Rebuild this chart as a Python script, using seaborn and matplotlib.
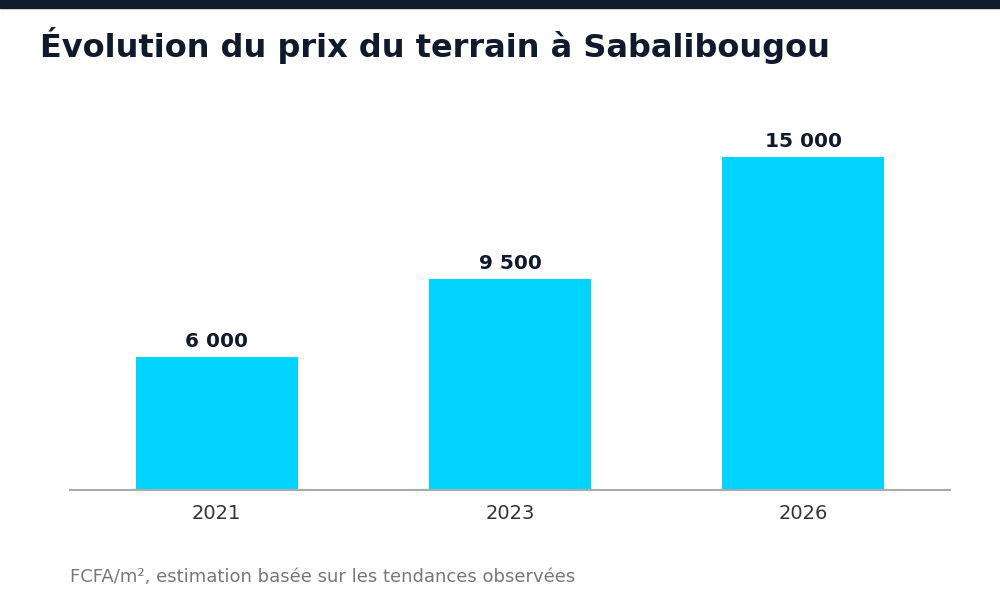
import matplotlib
matplotlib.use("Agg")
import matplotlib.pyplot as plt
import pandas as pd
import seaborn as sns
from matplotlib.patches import Rectangle

years = ["2021", "2023", "2026"]
prices = [6000, 9500, 15000]
value_labels = ["6 000", "9 500", "15 000"]

TITLE = "Évolution du prix du terrain à Sabalibougou"
NOTE = "FCFA/m², estimation basée sur les tendances observées"

DARK = "#0f1b2d"
CYAN = "#00d4ff"

sns.set_theme(style="white")
plt.rcParams["font.family"] = ["DejaVu Sans"]

df = pd.DataFrame({"year": years, "price": prices})

fig = plt.figure(figsize=(10, 6), dpi=100)
ax = fig.add_axes([0.07, 0.1833, 0.88, 0.6475])

sns.barplot(data=df, x="year", y="price", color=CYAN, saturation=1,
            width=0.553, linewidth=0, ax=ax)

ax.set_xlim(-0.5, 2.5)
ax.set_ylim(0, 17500)
ax.set_xlabel("")
ax.set_ylabel("")
ax.set_yticks([])
ax.tick_params(axis="x", length=0, pad=10, labelsize=14, labelcolor="#333333")

for side in ["top", "right", "left"]:
    ax.spines[side].set_visible(False)
ax.spines["bottom"].set_color("#aaaaaa")
ax.spines["bottom"].set_linewidth(1.5)

ax.bar_label(ax.containers[0], labels=value_labels, padding=4.5,
             fontsize=14.5, fontweight="bold", color=DARK)

fig.patches.append(Rectangle((0, 1 - 8 / 600), 1, 8 / 600,
                             transform=fig.transFigure, color=DARK, zorder=5))
fig.text(0.04, 1 - 45 / 600, TITLE, fontsize=23, fontweight="bold",
         color=DARK, va="center", ha="left")
fig.text(0.07, 1 - 577 / 600, NOTE, fontsize=13, color="#777777",
         va="center", ha="left")

fig.savefig("out.png", dpi=100)
plt.close(fig)
